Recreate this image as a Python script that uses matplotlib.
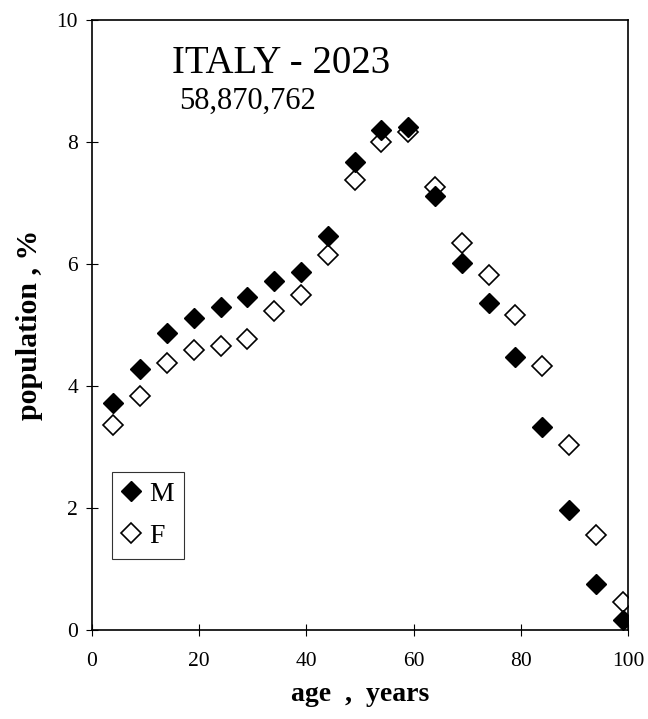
import numpy as np
import matplotlib
matplotlib.use('Agg')
import matplotlib.pyplot as plt

plt.rcParams['font.family'] = ['Liberation Serif', 'DejaVu Serif']

# age group midpoints, years
age = [4, 9, 14, 19, 24, 29, 34, 39, 44, 49, 54, 59, 64, 69, 74, 79, 84, 89, 94, 99]
# population share, %
male = [3.72, 4.28, 4.87, 5.11, 5.30, 5.46, 5.72, 5.87, 6.46, 7.67,
        8.20, 8.25, 7.11, 6.02, 5.36, 4.48, 3.33, 1.97, 0.75, 0.16]
female = [3.36, 3.84, 4.38, 4.59, 4.66, 4.77, 5.23, 5.49, 6.15, 7.38,
          8.00, 8.16, 7.26, 6.34, 5.82, 5.16, 4.33, 3.03, 1.56, 0.46]

fig = plt.figure(figsize=(6.48, 7.19), dpi=100)
ax = fig.add_axes([0.142, 0.124, 0.827, 0.848])

ax.plot(age, female, ls='none', marker='D', ms=10, mfc='white', mec='black',
        mew=1.2, label='F', zorder=2)
ax.plot(age, male, ls='none', marker='D', ms=10, mfc='black', mec='black',
        mew=1.0, label='M', zorder=3)

ax.set_xlim(0, 100)
ax.set_ylim(0, 10)
ax.set_xticks(range(0, 101, 20))
ax.set_yticks(range(0, 11, 2))
ax.tick_params(axis='x', direction='inout', length=8, labelsize=15.5, pad=12)
ax.tick_params(axis='y', direction='inout', length=8, labelsize=15.5, pad=6)
for s in ax.spines.values():
    s.set_linewidth(1.2)

ax.set_xlabel('age  ,  years', fontsize=20, fontweight='bold', labelpad=8)
ax.set_ylabel('population , %', fontsize=21.5, fontweight='bold', labelpad=10)

ax.text(0.150, 0.960, 'ITALY - 2023', transform=ax.transAxes, fontsize=28,
        va='top', ha='left')
ax.text(0.162, 0.890, '58,870,762', transform=ax.transAxes, fontsize=22,
        va='top', ha='left')

h, l = ax.get_legend_handles_labels()
leg = ax.legend(h[::-1], l[::-1], loc='lower left', bbox_to_anchor=(0.037, 0.117),
                fontsize=20, frameon=True, fancybox=False, edgecolor='black',
                handlelength=0.7, handletextpad=0.3, borderpad=0.35,
                labelspacing=0.6, borderaxespad=0)
leg.get_frame().set_linewidth(0.8)

fig.savefig('out.png', dpi=100)
